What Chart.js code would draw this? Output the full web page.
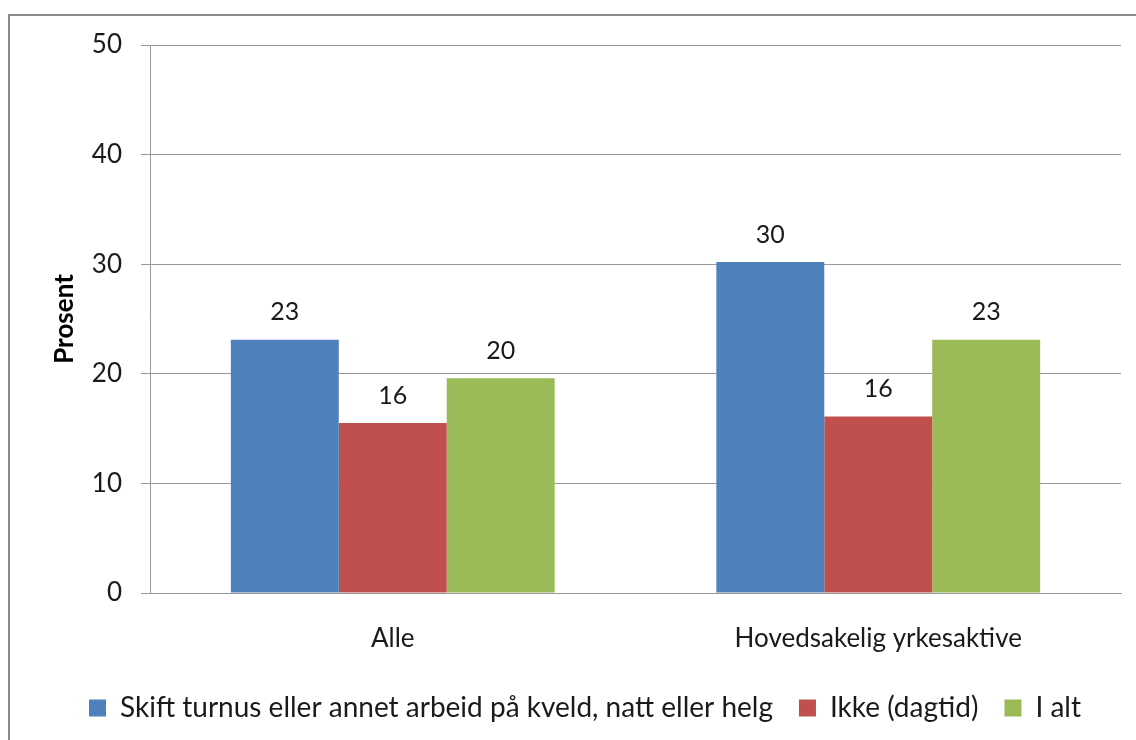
<!DOCTYPE html>
<html><head><meta charset="utf-8">
<script src="https://cdn.jsdelivr.net/npm/chart.js@4/dist/chart.umd.min.js"></script>
<style>
html,body{margin:0;padding:0;background:#fff;overflow:hidden}
#wrap{position:absolute;left:0;top:0;width:1136px;height:740px}
#frame{position:absolute;left:8px;top:14px;width:1200px;height:800px;border:2px solid #8a8a8a;pointer-events:none}
</style></head><body>
<div id="wrap"><canvas id="c" width="1136" height="740"></canvas><div id="frame"></div></div>
<script>
const categories = ["Alle", "Hovedsakelig yrkesaktive"];
const seriesNames = ["Skift turnus eller annet arbeid på kveld, natt eller helg", "Ikke (dagtid)", "I alt"];
const skiftValues = [23.1, 30.2];
const ikkeValues = [15.5, 16.1];
const iAltValues = [19.6, 23.1];
const skiftLabels = ["23", "30"];
const ikkeLabels = ["16", "16"];
const iAltLabels = ["20", "23"];
const yTicks = [0, 10, 20, 30, 40, 50];
const colors = ["#4F81BD", "#C0504D", "#9BBB59"];

const FONT = "Lato, 'Open Sans', sans-serif";
const labelSets = [skiftLabels, ikkeLabels, iAltLabels];

const valueLabels = {
  id: 'valueLabels',
  afterDatasetsDraw(chart) {
    const ctx = chart.ctx;
    ctx.save();
    ctx.font = "25px " + FONT;
    ctx.fillStyle = "#1a1a1a";
    ctx.textAlign = "center";
    ctx.textBaseline = "bottom";
    chart.data.datasets.forEach((ds, i) => {
      chart.getDatasetMeta(i).data.forEach((bar, j) => {
        ctx.fillText(labelSets[i][j], bar.x, bar.y - 15);
      });
    });
    ctx.restore();
  }
};

new Chart(document.getElementById('c'), {
  type: 'bar',
  data: {
    labels: categories,
    datasets: [
      {label: seriesNames[0], data: skiftValues, backgroundColor: colors[0]},
      {label: seriesNames[1], data: ikkeValues, backgroundColor: colors[1]},
      {label: seriesNames[2], data: iAltValues, backgroundColor: colors[2]}
    ]
  },
  options: {
    responsive: false,
    animation: false,
    devicePixelRatio: 1,
    layout: {padding: {left: 49, right: 15, top: 45, bottom: 8}},
    datasets: {bar: {categoryPercentage: 0.667, barPercentage: 1.0}},
    plugins: {
      legend: {
        position: 'bottom',
        labels: {font: {family: FONT, size: 28}, color: '#1a1a1a', boxWidth: 17, boxHeight: 17, padding: 26}
      },
      tooltip: {enabled: false}
    },
    scales: {
      x: {
        grid: {display: false},
        border: {display: true, color: '#999'},
        ticks: {font: {family: FONT, size: 26}, color: '#1a1a1a', padding: 22},
        afterFit(s) { s.height = 75; }
      },
      y: {
        min: 0, max: 50,
        afterBuildTicks(s) { s.ticks = yTicks.map(v => ({value: v})); },
        grid: {color: '#999', tickLength: 9, drawTicks: true},
        border: {display: true, color: '#999'},
        ticks: {font: {family: FONT, size: 26}, color: '#1a1a1a', padding: 19},
        title: {display: true, text: 'Prosent', font: {family: FONT, size: 26, weight: 'bold'}, color: '#000', padding: 0},
        afterFit(s) { s.width = 101; }
      }
    }
  },
  plugins: [valueLabels]
});
</script>
</body></html>
